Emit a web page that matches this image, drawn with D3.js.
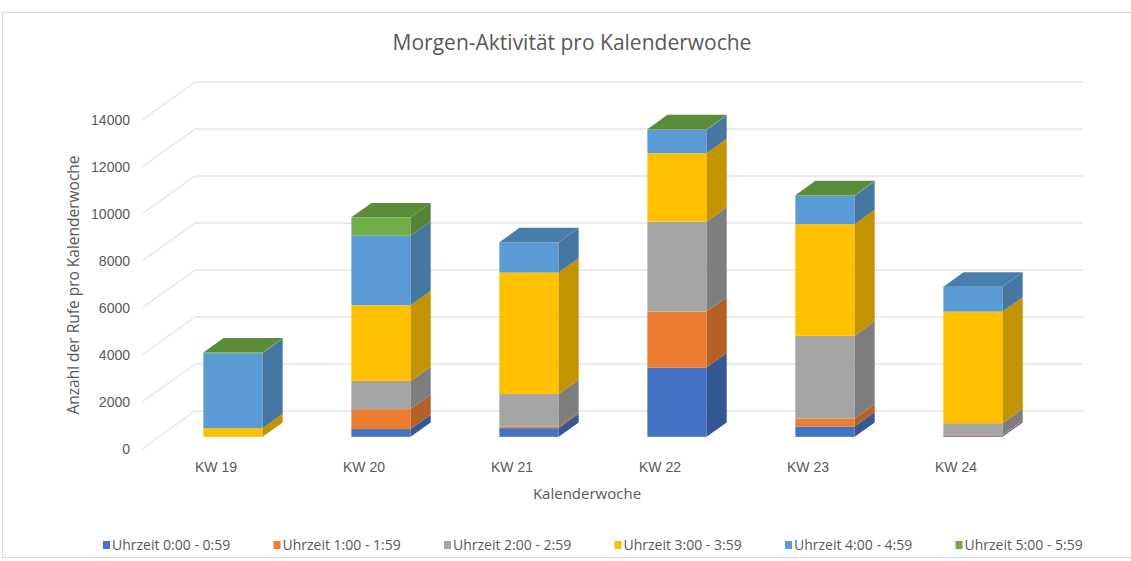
<!DOCTYPE html>
<html>
<head>
<meta charset="utf-8">
<script src="https://cdn.jsdelivr.net/npm/d3@7"></script>
<style>
  body { margin: 0; background: #fff; }
  svg { font-family: "Open Sans", sans-serif; }
  .axis text { fill: #595959; }
  .axis .domain, .axis line { display: none; }
</style>
</head>
<body>
<div id="chart"></div>
<script>
// values
const weeks = ["KW 19", "KW 20", "KW 21", "KW 22", "KW 23", "KW 24"];
const seriesNames = ["Uhrzeit 0:00 - 0:59", "Uhrzeit 1:00 - 1:59", "Uhrzeit 2:00 - 2:59",
                     "Uhrzeit 3:00 - 3:59", "Uhrzeit 4:00 - 4:59", "Uhrzeit 5:00 - 5:59"];
const h0 = [0, 330, 370, 2950, 440, 50];
const h1 = [0, 850, 70, 2380, 330, 30];
const h2 = [0, 1200, 1380, 3830, 3530, 500];
const h3 = [370, 3220, 5170, 2910, 4750, 4750];
const h4 = [3190, 2960, 1290, 990, 1200, 1060];
const h5 = [30, 780, 0, 30, 30, 0];
const yTicks = [0, 2000, 4000, 6000, 8000, 10000, 12000, 14000];
const colors = ["#4472C4", "#ED7D31", "#A5A5A5", "#FFC000", "#5B9BD5", "#70AD47"];

const seriesValues = [h0, h1, h2, h3, h4, h5];

const W = 1131, H = 561;
const svg = d3.select("#chart").append("svg")
    .attr("width", W)
    .attr("height", H);

// chart border
svg.append("rect")
    .attr("x", 2.5).attr("y", 12.5)
    .attr("width", W).attr("height", 545)
    .attr("fill", "none")
    .attr("stroke", "#d9d9d9");

// front plane + depth of the 3d box
const left = 142, right = 1030;
const DX = 53, DY = -38;
const dFront = 0.32, dBack = 0.70;

const x = d3.scaleBand().domain(weeks).range([left, right]).paddingInner(0).paddingOuter(0);
const y = d3.scaleLinear().domain([0, 14000]).range([449, 120]);

// gridlines: back wall + left wall
const grid = svg.append("g").attr("class", "grid");
grid.selectAll(".hline")
    .data(yTicks)
    .enter().append("line")
    .attr("x1", left + DX).attr("x2", right + DX)
    .attr("y1", d => y(d) + DY).attr("y2", d => y(d) + DY)
    .attr("stroke", "#e4e4e4").attr("stroke-width", 1.3);
grid.selectAll(".dline")
    .data(yTicks)
    .enter().append("line")
    .attr("x1", left).attr("x2", left + DX)
    .attr("y1", d => y(d)).attr("y2", d => y(d) + DY)
    .attr("stroke", "#e4e4e4").attr("stroke-width", 1.3);

// stack
const rows = weeks.map((w, i) => {
    const r = { week: w };
    seriesNames.forEach((s, j) => r[s] = seriesValues[j][i]);
    return r;
});
const stacked = d3.stack().keys(seriesNames)(rows);

const barW = x.bandwidth() * 0.4;
const ox = dFront * DX, oy = dFront * DY;        // front face offset
const bx = (dBack - dFront) * DX, by = (dBack - dFront) * DY; // bar depth

const bars = svg.append("g").attr("class", "bars");
weeks.forEach((w, i) => {
    const g = bars.append("g");
    const x0 = x(w) + x.bandwidth() / 2 - barW / 2 + ox;
    const x1 = x0 + barW;
    let topIdx = -1;
    stacked.forEach((layer, j) => {
        const d = layer[i];
        if (d[1] - d[0] <= 0) return;
        topIdx = j;
        const yt = y(d[1]) + oy, yb = y(d[0]) + oy;
        const c = colors[j];
        g.append("rect")
            .attr("x", x0).attr("y", yt)
            .attr("width", barW).attr("height", yb - yt)
            .attr("fill", c);
        g.append("polygon")
            .attr("points", [[x1, yt], [x1 + bx, yt + by], [x1 + bx, yb + by], [x1, yb]].join(" "))
            .attr("fill", d3.color(c).darker(0.75));
    });
    if (topIdx >= 0) {
        const yt = y(stacked[topIdx][i][1]) + oy;
        g.append("polygon")
            .attr("points", [[x0, yt], [x0 + bx, yt + by], [x1 + bx, yt + by], [x1, yt]].join(" "))
            .attr("fill", d3.color(colors[topIdx]).darker(0.6));
    }
});

// axes
svg.append("g")
    .attr("class", "axis y-axis")
    .attr("transform", "translate(" + left + ",0)")
    .call(d3.axisLeft(y).tickValues(yTicks).tickSize(0).tickPadding(12).tickFormat(d3.format("d")))
    .selectAll("text").style("font-size", "14px");

svg.append("g")
    .attr("class", "axis x-axis")
    .attr("transform", "translate(0,449)")
    .call(d3.axisBottom(x).tickSize(0).tickPadding(13))
    .selectAll("text").style("font-size", "14px");

// titles
svg.append("text")
    .attr("x", 572).attr("y", 50)
    .attr("text-anchor", "middle")
    .style("font-size", "21px")
    .style("fill", "#595959")
    .text("Morgen-Aktivität pro Kalenderwoche");

svg.append("text")
    .attr("x", 587).attr("y", 499)
    .attr("text-anchor", "middle")
    .style("font-size", "15px")
    .style("fill", "#595959")
    .text("Kalenderwoche");

svg.append("text")
    .attr("transform", "translate(79,285) rotate(-90)")
    .attr("text-anchor", "middle")
    .style("font-size", "15.5px")
    .style("fill", "#595959")
    .text("Anzahl der Rufe pro Kalenderwoche");

// legend
const legend = svg.append("g").attr("class", "legend")
    .attr("transform", "translate(103,545)");
const items = legend.selectAll(".legend-item")
    .data(seriesNames)
    .enter().append("g")
    .attr("class", "legend-item")
    .attr("transform", (d, i) => "translate(" + i * 170.5 + ",0)");
items.append("rect")
    .attr("x", 0).attr("y", -4)
    .attr("width", 7).attr("height", 8)
    .attr("fill", (d, i) => colors[i]);
items.append("text")
    .attr("x", 9).attr("y", 0)
    .attr("dy", "0.35em")
    .style("font-size", "14px")
    .style("fill", "#595959")
    .text(d => d);
</script>
</body>
</html>
